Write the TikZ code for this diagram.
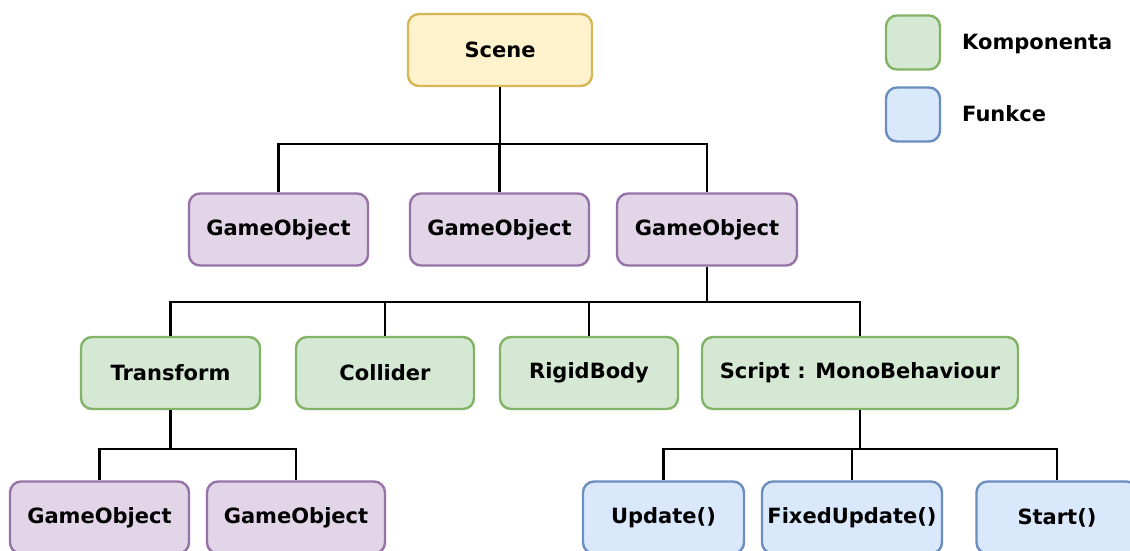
\documentclass[tikz,border=0pt]{standalone}
\usepackage{fontspec}
\setmainfont{DejaVu Sans}
\usepackage{tikz}
\usetikzlibrary{positioning}

\definecolor{sceneFill}{HTML}{FFF2CC}
\definecolor{sceneLine}{HTML}{D6B656}
\definecolor{objFill}{HTML}{E1D5E7}
\definecolor{objLine}{HTML}{9673A6}
\definecolor{compFill}{HTML}{D5E8D4}
\definecolor{compLine}{HTML}{82B366}
\definecolor{funcFill}{HTML}{DAE8FC}
\definecolor{funcLine}{HTML}{6C8EBF}

\begin{document}
\begin{tikzpicture}[x=1pt,y=-1pt,
    box/.style={draw,rounded corners=11pt,line width=2.4pt,inner sep=0pt,
      minimum height=72pt,font=\fontsize{21}{25}\selectfont\bfseries},
    scenebox/.style={box,draw=sceneLine,fill=sceneFill,minimum width=184pt},
    objbox/.style={box,draw=objLine,fill=objFill,minimum width=179pt},
    compbox/.style={box,draw=compLine,fill=compFill,minimum width=178pt},
    funcbox/.style={box,draw=funcLine,fill=funcFill,minimum width=161pt},
    legbox/.style={box,minimum width=54pt,minimum height=54pt},
    legtext/.style={anchor=west,inner sep=0pt,font=\fontsize{21}{25}\selectfont\bfseries},
    link/.style={draw=black,line width=2.3pt}]

    \clip (0,0) rectangle (1130,550);
    \useasboundingbox (0,0) rectangle (1130,550);

    % tree
    \node[scenebox] (scene) at (500,50) {Scene};

    \node[objbox] (go1) at (278.5,229.5) {GameObject};
    \node[objbox] (go2) at (499.5,229.5) {GameObject};
    \node[objbox,minimum width=180pt] (go3) at (707,229.5) {GameObject};

    \node[compbox,minimum width=179pt] (trans) at (170.5,373) {Transform};
    \node[compbox] (coll) at (385,373) {Collider};
    \node[compbox] (rigid) at (589,373) {RigidBody};
    \node[compbox,minimum width=316pt] (script) at (860,373) {Script : MonoBehaviour};

    \node[objbox] (go4) at (99.5,517.5) {GameObject};
    \node[objbox,minimum width=178pt] (go5) at (296,517.5) {GameObject};
    \node[funcbox] (upd) at (663.5,517.5) {Update()};
    \node[funcbox,minimum width=180pt] (fixed) at (852,517.5) {FixedUpdate()};
    \node[funcbox] (start) at (1057,517.5) {Start()};

    % legend
    \node[legbox,draw=compLine,fill=compFill] (legcomp) at (913,42.5) {};
    \node[legbox,draw=funcLine,fill=funcFill] (legfunc) at (913,114.5) {};
    \node[legtext] (legcompt) at (962,44) {Komponenta};
    \node[legtext] (legfunct) at (962,114) {Funkce};

    % connectors
    \foreach \c in {go1,go2,go3}
      \path[link] (scene.south) -- ++(0,57) -| (\c.north);
    \foreach \c in {trans,coll,rigid,script}
      \path[link] (go3.south) -- ++(0,35) -| (\c.north);
    \foreach \c in {go4,go5}
      \path[link] (trans.south) -- ++(0,39) -| (\c.north);
    \foreach \c in {upd,fixed,start}
      \path[link] (script.south) -- ++(0,39) -| (\c.north);

\end{tikzpicture}
\end{document}
